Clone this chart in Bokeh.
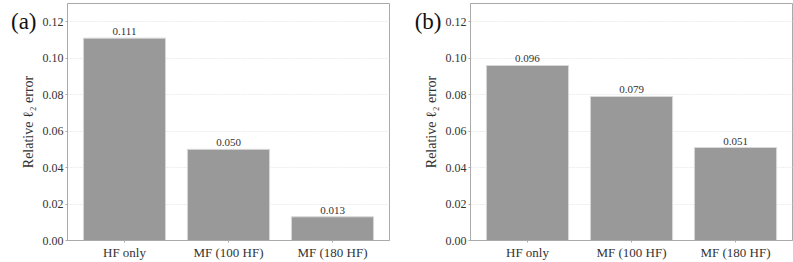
from bokeh.plotting import figure
from bokeh.layouts import row
from bokeh.models import (ColumnDataSource, FixedTicker, CustomJSTickFormatter,
                          LinearAxis)
from bokeh.core.properties import value
from bokeh.embed import file_html
from bokeh.resources import INLINE

categories = ["HF only", "MF (100 HF)", "MF (180 HF)"]
errors_a = [0.111, 0.050, 0.013]
errors_b = [0.096, 0.079, 0.051]
labels_a = ["0.111", "0.050", "0.013"]
labels_b = ["0.096", "0.079", "0.051"]
panel_titles = ["(a)", "(b)"]
y_ticks = [0.0, 0.02, 0.04, 0.06, 0.08, 0.10, 0.12]
y_label = "Relative \u2113\u2082 error"

FONT = "Liberation Serif"
TEXT = "#333333"
EDGE = "#aaaaaa"


def make_panel(values, labels, tag, width, left, right, tag_shift):
    src = ColumnDataSource(dict(cat=categories, val=values, lab=labels))
    p = figure(x_range=categories, y_range=(0, 0.13), width=width, height=262,
               output_backend="svg", toolbar_location=None,
               min_border_left=left, min_border_right=right,
               min_border_top=3, min_border_bottom=19)
    p.x_range.range_padding = 0.032
    p.vbar(x="cat", top="val", width=0.79, source=src,
           fill_color="#999999", line_color="#d9d9d9", line_width=1)
    p.text(x="cat", y="val", text="lab", source=src,
           text_align="center", text_baseline="bottom", y_offset=-3,
           text_font_size="11px", text_color=TEXT,
           text_font=value(FONT))
    p.yaxis.ticker = FixedTicker(ticks=y_ticks)
    p.yaxis.formatter = CustomJSTickFormatter(code="return tick.toFixed(2);")
    p.yaxis.axis_label = y_label
    for ax in (p.xaxis[0], p.yaxis[0]):
        ax.major_label_text_font = FONT
        ax.major_label_text_color = TEXT
        ax.axis_line_color = EDGE
        ax.major_tick_line_color = EDGE
        ax.major_tick_out = 2
        ax.major_tick_in = 0
        ax.minor_tick_line_color = None
        ax.major_label_standoff = 2
    p.xaxis.major_label_text_font_size = "13px"
    p.yaxis.major_label_text_font_size = "12px"
    p.yaxis.axis_label_text_font = FONT
    p.yaxis.axis_label_text_font_style = "normal"
    p.yaxis.axis_label_text_font_size = "14px"
    p.yaxis.axis_label_text_color = TEXT
    p.yaxis.axis_label_standoff = 4
    p.xgrid.grid_line_color = None
    p.ygrid.grid_line_color = "#ececec"
    p.ygrid.grid_line_dash = "2 1"
    p.outline_line_color = EDGE
    p.outline_line_width = 1

    # panel tag "(a)"/"(b)" drawn as the single tick label of an outer left axis
    tag_axis = LinearAxis(ticker=FixedTicker(ticks=[0.12]),
                          formatter=CustomJSTickFormatter(code="return %r;" % tag))
    tag_axis.axis_line_color = None
    tag_axis.major_tick_line_color = None
    tag_axis.minor_tick_line_color = None
    tag_axis.major_tick_out = 0
    tag_axis.major_tick_in = 0
    tag_axis.major_label_standoff = tag_shift
    tag_axis.major_label_text_font = FONT
    tag_axis.major_label_text_font_size = "23px"
    tag_axis.major_label_text_color = "#111111"
    p.add_layout(tag_axis, "left")
    return p


pa = make_panel(errors_a, labels_a, panel_titles[0], 400, 67, 11, -19)
pb = make_panel(errors_b, labels_b, panel_titles[1], 393, 70, 1, -21)

layout = row(pa, pb)
open("out.html", "w").write(file_html(layout, INLINE))
